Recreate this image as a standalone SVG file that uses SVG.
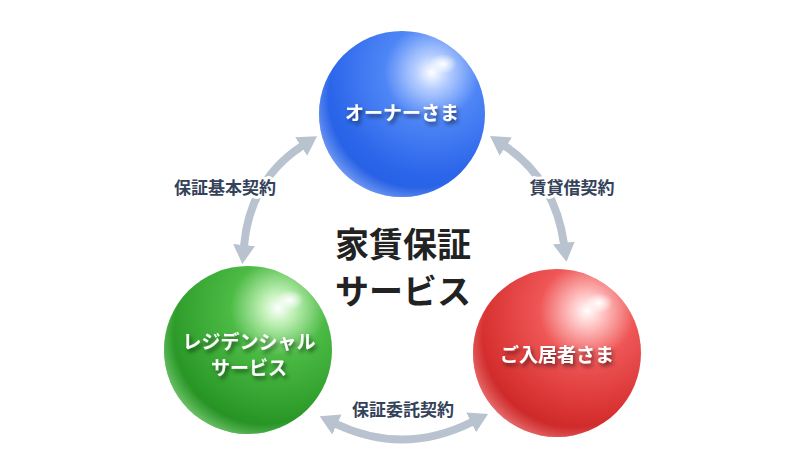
<svg xmlns="http://www.w3.org/2000/svg" width="806" height="468" viewBox="0 0 806 468">
<defs>
<style>
.arrow{fill:none;stroke:#b9c3cf;stroke-width:8;stroke-linecap:butt}
.lbl{font-family:"Noto Sans CJK JP","Noto Sans",sans-serif;font-size:17px;font-weight:bold;fill:#34425a;text-anchor:middle;stroke:#fff;stroke-width:6;stroke-linejoin:round;paint-order:stroke}
.title{font-family:"Noto Sans CJK JP","Noto Sans",sans-serif;font-size:34px;font-weight:bold;fill:#222;text-anchor:middle}
.stxt{font-family:"Noto Sans CJK JP","Noto Sans",sans-serif;font-size:19px;font-weight:bold;fill:#fff;text-anchor:middle;filter:url(#tshadow)}
</style>
<marker id="ah" viewBox="0 -12 20 24" refX="1" refY="0" markerWidth="20" markerHeight="24" markerUnits="userSpaceOnUse" orient="auto-start-reverse">
<path d="M0,-11 L19,0 L0,11 z" fill="#b9c3cf"/>
</marker>
<filter id="tshadow" x="-20%" y="-50%" width="140%" height="200%">
<feDropShadow dx="2" dy="3" stdDeviation="2" flood-color="#000" flood-opacity="0.55"/>
</filter>
<filter id="blur6"><feGaussianBlur stdDeviation="6"/></filter>
<radialGradient id="gBlue" cx="0.68" cy="0.25" r="0.95">
<stop offset="0" stop-color="#ffffff"/>
<stop offset="0.1" stop-color="#b9d0ff"/>
<stop offset="0.3" stop-color="#4f86f6"/>
<stop offset="0.65" stop-color="#2b66ea"/>
<stop offset="1" stop-color="#1f55d8"/>
</radialGradient>
<radialGradient id="gGreen" cx="0.68" cy="0.25" r="0.95">
<stop offset="0" stop-color="#ffffff"/>
<stop offset="0.1" stop-color="#bff0b5"/>
<stop offset="0.3" stop-color="#4cbb45"/>
<stop offset="0.65" stop-color="#2e9d2b"/>
<stop offset="1" stop-color="#137a12"/>
</radialGradient>
<radialGradient id="gRed" cx="0.68" cy="0.25" r="0.95">
<stop offset="0" stop-color="#ffffff"/>
<stop offset="0.1" stop-color="#ffc4c4"/>
<stop offset="0.3" stop-color="#ef5656"/>
<stop offset="0.65" stop-color="#d83232"/>
<stop offset="1" stop-color="#b51515"/>
</radialGradient>
<radialGradient id="rimB" cx="0.6" cy="0.4" r="0.66">
<stop offset="0.82" stop-color="#9fc0ff" stop-opacity="0"/>
<stop offset="1" stop-color="#9fc0ff" stop-opacity="0.7"/>
</radialGradient>
<radialGradient id="rimG" cx="0.6" cy="0.4" r="0.66">
<stop offset="0.82" stop-color="#9fe89a" stop-opacity="0"/>
<stop offset="1" stop-color="#9fe89a" stop-opacity="0.7"/>
</radialGradient>
<radialGradient id="rimR" cx="0.6" cy="0.4" r="0.66">
<stop offset="0.82" stop-color="#ff9a9a" stop-opacity="0"/>
<stop offset="1" stop-color="#ff9a9a" stop-opacity="0.7"/>
</radialGradient>
<radialGradient id="spec" cx="0.5" cy="0.5" r="0.5">
<stop offset="0" stop-color="#fff" stop-opacity="1"/>
<stop offset="1" stop-color="#fff" stop-opacity="0"/>
</radialGradient>
</defs>
<rect width="806" height="468" fill="#fff"/>

<g id="connectors">
<path class="arrow" d="M244,246 Q250,180 302,146" marker-start="url(#ah)" marker-end="url(#ah)"/>
<path class="arrow" d="M505,146 Q555,180 564,244" marker-start="url(#ah)" marker-end="url(#ah)"/>
<path class="arrow" d="M336,424 Q404,456 472,422" marker-start="url(#ah)" marker-end="url(#ah)"/>
<text class="lbl" x="225" y="194">保証基本契約</text>
<text class="lbl" x="572" y="194">賃貸借契約</text>
<text class="lbl" x="403" y="416">保証委託契約</text>
</g>

<g id="title">
<text class="title" x="403" y="257">家賃保証</text>
<text class="title" x="403" y="304">サービス</text>
</g>

<g id="owner">
<circle cx="402" cy="114" r="83" fill="url(#gBlue)"/>
<circle cx="402" cy="114" r="83" fill="url(#rimB)"/>
<ellipse cx="443" cy="64" rx="14" ry="10" fill="url(#spec)"/>
<text class="stxt" x="402" y="120">オーナーさま</text>
</g>

<g id="residential">
<circle cx="248" cy="350" r="84" fill="url(#gGreen)"/>
<circle cx="248" cy="350" r="84" fill="url(#rimG)"/>
<ellipse cx="290" cy="300" rx="14" ry="10" fill="url(#spec)"/>
<text class="stxt" x="249" y="349">レジデンシャル</text>
<text class="stxt" x="249" y="375">サービス</text>
</g>

<g id="tenant">
<circle cx="557" cy="353" r="84" fill="url(#gRed)"/>
<circle cx="557" cy="353" r="84" fill="url(#rimR)"/>
<ellipse cx="599" cy="303" rx="14" ry="10" fill="url(#spec)"/>
<text class="stxt" x="557" y="362">ご入居者さま</text>
</g>
</svg>
